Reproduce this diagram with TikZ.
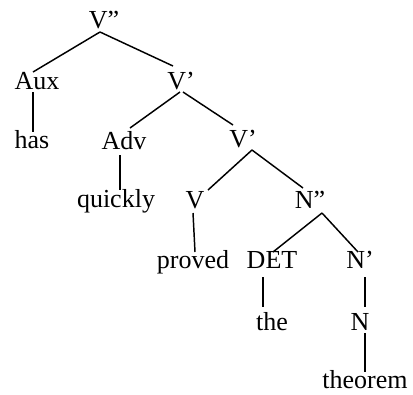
\documentclass[tikz,border=0pt]{standalone}
\usepackage{fontspec}
\setmainfont{Liberation Serif}
\begin{document}
\begin{tikzpicture}[x=0.75pt,y=-0.75pt,
  lbl/.style={anchor=base,inner sep=0pt,font=\fontsize{19.5}{22}\selectfont},
  edge/.style={line width=1.1pt,black}]
\useasboundingbox (0,0) rectangle (413,394);
\node[lbl] (Vpp) at (104,28) {V”};
\node[lbl] (Aux) at (37,89) {Aux};
\node[lbl] (Vp1) at (181,89) {V’};
\node[lbl] (has) at (32,148) {has};
\node[lbl] (Adv) at (124,149) {Adv};
\node[lbl] (Vp2) at (243,147) {V’};
\node[lbl] (quickly) at (116,207) {quickly};
\node[lbl] (V) at (195,208) {V};
\node[lbl] (Npp) at (310,208) {N”};
\node[lbl] (proved) at (193,268) {proved};
\node[lbl] (DET) at (272,268) {DET};
\node[lbl] (Np) at (360,268) {N’};
\node[lbl] (the) at (272,330) {the};
\node[lbl] (N) at (360,330) {N};
\node[lbl] (theorem) at (365,388) {theorem};
\draw[edge] ([shift={(-4,4)}]Vpp.base) -- ([shift={(-4,-17)}]Aux.base);
\draw[edge] ([shift={(-4,4)}]Vpp.base) -- ([shift={(-8,-23)}]Vp1.base);
\draw[edge] ([shift={(-4,3)}]Aux.base) -- ([shift={(1,-16)}]has.base);
\draw[edge] ([shift={(-1,3)}]Vp1.base) -- ([shift={(6,-21)}]Adv.base);
\draw[edge] ([shift={(2,3)}]Vp1.base) -- ([shift={(-10,-22)}]Vp2.base);
\draw[edge] ([shift={(-4,6)}]Adv.base) -- ([shift={(4,-17)}]quickly.base);
\draw[edge] ([shift={(9,3)}]Vp2.base) -- ([shift={(13,-18)}]V.base);
\draw[edge] ([shift={(9,3)}]Vp2.base) -- ([shift={(-7,-20)}]Npp.base);
\draw[edge] ([shift={(-2,5)}]V.base) -- ([shift={(2,-16)}]proved.base);
\draw[edge] ([shift={(12,5)}]Npp.base) -- ([shift={(1,-16)}]DET.base);
\draw[edge] ([shift={(12,5)}]Npp.base) -- ([shift={(-2,-16)}]Np.base);
\draw[edge] ([shift={(-9,9)}]DET.base) -- ([shift={(-9,-23)}]the.base);
\draw[edge] ([shift={(5,9)}]Np.base) -- ([shift={(5,-23)}]N.base);
\draw[edge] ([shift={(5,3)}]N.base) -- ([shift={(0,-16)}]theorem.base);
\end{tikzpicture}
\end{document}
